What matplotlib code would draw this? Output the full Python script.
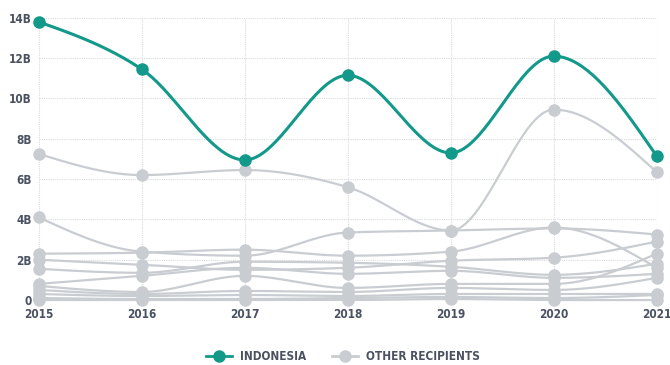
import matplotlib
matplotlib.use("Agg")
import matplotlib.pyplot as plt
import numpy as np

# Data (values in billions)
years = [2015, 2016, 2017, 2018, 2019, 2020, 2021]
indonesia = [13.8, 11.45, 6.95, 11.15, 7.3, 12.1, 7.15]
others = [
    [7.25, 6.2, 6.45, 5.6, 3.45, 9.45, 6.35],
    [4.1, 2.4, 2.2, 3.35, 3.45, 3.55, 3.25],
    [2.3, 2.35, 2.5, 2.2, 2.4, 3.6, 1.6],
    [2.0, 1.75, 1.5, 1.6, 1.95, 2.1, 2.9],
    [1.55, 1.35, 1.9, 1.85, 1.65, 1.25, 1.8],
    [0.8, 1.2, 1.6, 1.3, 1.45, 1.1, 1.3],
    [0.7, 0.4, 1.2, 0.6, 0.8, 0.8, 2.3],
    [0.5, 0.3, 0.45, 0.4, 0.6, 0.5, 1.1],
    [0.3, 0.2, 0.25, 0.2, 0.3, 0.3, 0.3],
    [0.1, 0.05, 0.05, 0.1, 0.15, 0.1, 0.25],
    [0.0, 0.0, 0.0, 0.0, 0.05, 0.0, 0.0],
]
ytick_vals = [0, 2, 4, 6, 8, 10, 12, 14]
ytick_labels = ["0", "2B", "4B", "6B", "8B", "10B", "12B", "14B"]

TEAL = "#13998a"
GRAY = "#c9cdd2"
TEXT = "#4a5262"


def monotone(x, y, n=40):
    # monotone cubic (Steffen, like d3 curveMonotoneX)
    x = np.asarray(x, float)
    y = np.asarray(y, float)
    h = np.diff(x)
    s = np.diff(y) / h
    m = np.zeros_like(y)
    for i in range(1, len(y) - 1):
        p = (s[i - 1] * h[i] + s[i] * h[i - 1]) / (h[i - 1] + h[i])
        m[i] = (np.sign(s[i - 1]) + np.sign(s[i])) * min(abs(s[i - 1]), abs(s[i]), 0.5 * abs(p))
    m[0] = (3 * s[0] - m[1]) / 2
    m[-1] = (3 * s[-1] - m[-2]) / 2
    xs, ys = [], []
    for i in range(len(x) - 1):
        t = np.linspace(0, 1, n)
        h00 = 2 * t**3 - 3 * t**2 + 1
        h10 = t**3 - 2 * t**2 + t
        h01 = -2 * t**3 + 3 * t**2
        h11 = t**3 - t**2
        xs.append(x[i] + t * h[i])
        ys.append(h00 * y[i] + h10 * h[i] * m[i] + h01 * y[i + 1] + h11 * h[i] * m[i + 1])
    return np.concatenate(xs), np.concatenate(ys)


fig = plt.figure(figsize=(6.7, 3.65), dpi=100)
ax = fig.add_axes([0.058, 0.178, 0.922, 0.773])

# Other recipients
for vals in others:
    sx, sy = monotone(years, vals)
    ax.plot(sx, sy, color=GRAY, lw=1.6, zorder=2, clip_on=False)
    ax.plot(years, vals, "o", color=GRAY, ms=8, zorder=3, clip_on=False)

# Indonesia
sx, sy = monotone(years, indonesia)
ax.plot(sx, sy, color=TEAL, lw=2.2, zorder=4, clip_on=False)
ax.plot(years, indonesia, "o", color=TEAL, ms=8, zorder=5, clip_on=False)

ax.set_xlim(years[0], years[-1])
ax.set_ylim(0, 14)
ax.set_xticks(years)
ax.set_xticklabels([str(y) for y in years])
ax.set_yticks(ytick_vals)
ax.set_yticklabels(ytick_labels)
for lab in ax.get_xticklabels() + ax.get_yticklabels():
    lab.set_family("DejaVu Sans")
    lab.set_stretch("condensed")
    lab.set_fontweight("bold")
    lab.set_fontsize(8.5)
    lab.set_color(TEXT)
ax.tick_params(length=0)
ax.tick_params(axis="y", pad=5)
ax.tick_params(axis="x", pad=6)
ax.grid(True, color="#d9dbde", lw=0.8, ls=(0, (1, 1)))
ax.set_axisbelow(True)
for sp in ax.spines.values():
    sp.set_visible(False)

# Legend
h1 = plt.Line2D([], [], color=TEAL, lw=2, marker="o", ms=8)
h2 = plt.Line2D([], [], color=GRAY, lw=2, marker="o", ms=8)
leg = fig.legend([h1, h2], ["INDONESIA", "OTHER RECIPIENTS"], loc="center",
                 bbox_to_anchor=(0.512, 0.022), ncol=2, frameon=False,
                 handlelength=2.2, columnspacing=2.2, handletextpad=0.7,
                 prop={"family": "DejaVu Sans", "stretch": "condensed",
                       "weight": "bold", "size": 8.5})
for t in leg.get_texts():
    t.set_color(TEXT)

fig.savefig("out.png", dpi=100)
